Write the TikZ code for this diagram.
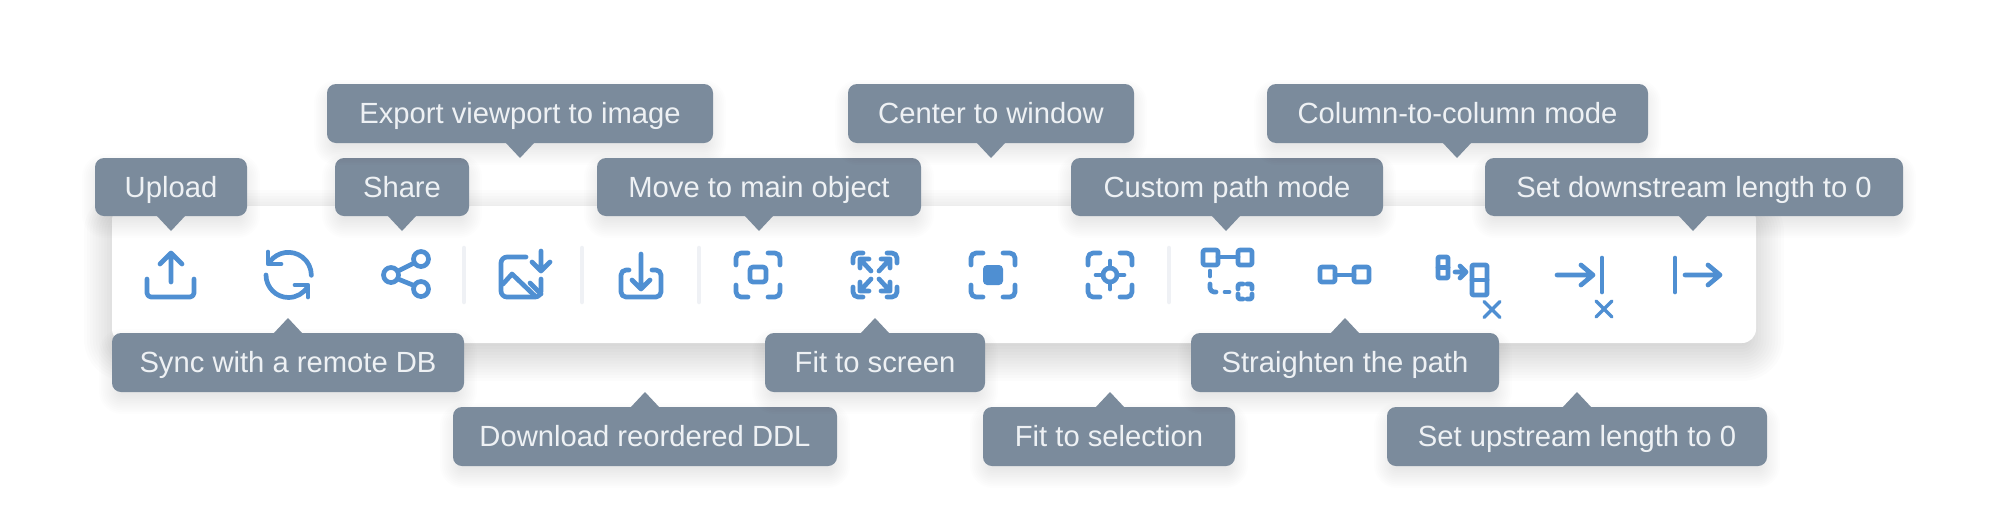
\documentclass[tikz,border=0pt]{standalone}
\usepackage{fontspec}
\setmainfont{Liberation Sans}
\definecolor{tipfill}{HTML}{7B8B9C}
\definecolor{tiptext}{HTML}{EEF1F4}
\definecolor{iconblue}{HTML}{4F8FD2}
\definecolor{sepgrey}{HTML}{EFF1F5}
\tikzset{
  tipbox/.style={fill=tipfill,text=tiptext,rounded corners=9pt,inner sep=0pt,outer sep=0pt,anchor=north west,text height=23pt,text depth=3pt,font=\fontsize{29.2}{32}\selectfont},
  icon/.style={draw=iconblue,line width=4.7pt,line cap=round,line join=round},
  thinicon/.style={icon,line width=3.4pt},
  sepbar/.style={draw=sepgrey,line width=4.5pt,line cap=round},
}
% x0 y0 x1 y1 dy spread alpha
\newcommand\softshadow[7]{%
  \foreach \i in {0,...,14}{%
    \pgfmathsetmacro\ee{#6-\i*#6/7}%
    \pgfmathsetmacro\rr{max(2,10+\ee)}%
    \fill[black,fill opacity=#7,rounded corners=\rr pt] ({#1-\ee},{#2+#5-\ee}) rectangle ({#3+\ee},{#4+#5+\ee});
  }}
% name x0 y0 x1 y1 tipx text
\newcommand\tipdown[7]{%
  \softshadow{#2}{#3}{#4}{#5}{9}{13}{0.009}%
  \fill[tipfill] ({#6-15},{#5-1}) -- (#6,{#5+15}) -- ({#6+15},{#5-1}) -- cycle;
  \node[tipbox,minimum width={#4-#2},minimum height={#5-#3}] (#1) at (#2,#3) {#7};}
\newcommand\tipup[7]{%
  \softshadow{#2}{#3}{#4}{#5}{9}{13}{0.009}%
  \fill[tipfill] ({#6-15},{#3+1}) -- (#6,{#3-15}) -- ({#6+15},{#3+1}) -- cycle;
  \node[tipbox,minimum width={#4-#2},minimum height={#5-#3}] (#1) at (#2,#3) {#7};}
\newcommand\focusframe[3]{% cx cy armend
  \draw[icon,rounded corners=5pt] ({#1-#3},{#2-22}) -- ({#1-22},{#2-22}) -- ({#1-22},{#2-#3});
  \draw[icon,rounded corners=5pt] ({#1+#3},{#2-22}) -- ({#1+22},{#2-22}) -- ({#1+22},{#2-#3});
  \draw[icon,rounded corners=5pt] ({#1-#3},{#2+22}) -- ({#1-22},{#2+22}) -- ({#1-22},{#2+#3});
  \draw[icon,rounded corners=5pt] ({#1+#3},{#2+22}) -- ({#1+22},{#2+22}) -- ({#1+22},{#2+#3});}
\newcommand\xmark[2]{\draw[thinicon] ({#1-8},{#2-8}) -- ({#1+8},{#2+8}) ({#1-8},{#2+8}) -- ({#1+8},{#2-8});}
\begin{document}
\begin{tikzpicture}[x=1pt,y=-1pt]
\useasboundingbox (0,0) rectangle (2000,528);
\fill[white] (0,0) rectangle (2000,528);
% toolbar
\foreach \i in {0,...,19}{%
  \pgfmathsetmacro\ee{28-\i*2.9}%
  \pgfmathsetmacro\rr{max(3,14+\ee)}%
  \fill[black,fill opacity=0.0125,rounded corners=\rr pt] ({112-\ee},{206+12-\ee}) rectangle ({1756+\ee},{343+10+\ee});
}
\node[fill=white,rounded corners=14pt,inner sep=0pt,outer sep=0pt,anchor=north west,minimum width=1644pt,minimum height=137pt] (toolbar) at (112,206) {};
% separators
\draw[sepbar] (464,248) -- (464,302);
\draw[sepbar] (582,248) -- (582,302);
\draw[sepbar] (699,248) -- (699,302);
\draw[sepbar] (1169,248) -- (1169,302);
% upload
\draw[icon,rounded corners=4pt] (147,279) -- (147,297) -- (194,297) -- (194,279);
\draw[icon] (171,282) -- (171,254) (160,264) -- (171,253) -- (182,264);
% sync
\draw[icon] (270,261.5) arc[start angle=217,end angle=360,radius=23];
\draw[icon] (268,252) -- (268,264) -- (281,264);
\draw[icon] (266,275) arc[start angle=180,end angle=32,radius=22.5];
\draw[icon] (295,285) -- (308,285) -- (308,297);
% share
\draw[icon] (391,275) circle[radius=7.5];
\draw[icon] (421,259) circle[radius=7.5];
\draw[icon] (421,289) circle[radius=7.5];
\draw[icon] (398,271) -- (414,263) (398,279) -- (414,285.5);
% image download
\draw[icon,rounded corners=6pt] (526,257) -- (501,257) -- (501,297) -- (541,297) -- (541,279);
\draw[icon] (503,284) -- (512,274) -- (535,296) (530,283) -- (541,294);
\draw[icon] (541,251) -- (541,270) (532,262) -- (541,271) -- (550,262);
% download
\draw[icon,rounded corners=5pt] (629,270) -- (621,270) -- (621,297) -- (661,297) -- (661,270) -- (652,270);
\draw[icon] (641,254) -- (641,287) (632,280) -- (641,289) -- (650,280);
% focus 1
\focusframe{758}{275}{10}
\draw[icon,rounded corners=3pt] (750,267) rectangle (766,282);
% focus 2
\focusframe{875}{275}{12}
\draw[icon] (871,271) -- (860,259) (860,268) -- (860,259) -- (869,259);
\draw[icon] (879,271) -- (890,259) (881,259) -- (890,259) -- (890,268);
\draw[icon] (871,279) -- (860,291) (860,282) -- (860,291) -- (869,291);
\draw[icon] (879,279) -- (890,291) (890,282) -- (890,291) -- (881,291);
% focus 3
\focusframe{993}{275}{10}
\fill[iconblue,rounded corners=4pt] (983,265) rectangle (1003,285);
% focus 4
\focusframe{1110}{275}{10}
\draw[icon] (1110,275) circle[radius=7];
\draw[icon] (1096,275) -- (1103,275) (1117,275) -- (1124,275) (1110,261) -- (1110,268) (1110,282) -- (1110,289);
% custom path
\draw[icon,rounded corners=2pt] (1203,250) rectangle (1218,265);
\draw[icon,rounded corners=2pt] (1238,250) rectangle (1252,265);
\draw[icon] (1218,257) -- (1238,257);
\draw[icon] (1210,271) -- (1210,276);
\draw[icon,rounded corners=4pt] (1210,284) -- (1210,292) -- (1216,292);
\draw[icon] (1225,292) -- (1229,292);
\draw[icon,rounded corners=2pt] (1238,289) -- (1238,284) -- (1243,284);
\draw[icon,rounded corners=2pt] (1247,284) -- (1252,284) -- (1252,289);
\draw[icon,rounded corners=2pt] (1252,294) -- (1252,299) -- (1247,299);
\draw[icon,rounded corners=2pt] (1243,299) -- (1238,299) -- (1238,294);
% straighten
\draw[icon,rounded corners=2pt] (1320,267) rectangle (1335,282);
\draw[icon,rounded corners=2pt] (1354,267) rectangle (1369,282);
\draw[icon] (1335,275) -- (1354,275);
% column
\draw[icon,rounded corners=1pt] (1438,257) rectangle (1448,278);
\draw[icon] (1438,267.5) -- (1448,267.5);
\draw[icon] (1455,272) -- (1465,272) (1460,266) -- (1466,272) -- (1460,278);
\draw[icon,rounded corners=1pt] (1472,265) rectangle (1487,295);
\draw[icon] (1472,280) -- (1487,280);
\xmark{1492}{309.5}
% arrow to bar
\draw[icon] (1557,275) -- (1592,275) (1581,265) -- (1593,275) -- (1581,285);
\draw[icon] (1602,258) -- (1602,292);
\xmark{1604}{309}
% bar to arrow
\draw[icon] (1675,258) -- (1675,292);
\draw[icon] (1685,275) -- (1719,275) (1708,265) -- (1720,275) -- (1708,285);
% tooltips
\tipdown{upload}{95}{158}{247}{216}{171}{Upload}
\tipdown{share}{335}{158}{469}{216}{402}{Share}
\tipdown{export}{327}{84}{713}{143}{520}{Export viewport to image}
\tipdown{move}{597}{158}{921}{216}{759}{Move to main object}
\tipdown{center}{848}{84}{1134}{143}{991}{Center to window}
\tipdown{custom}{1071}{158}{1383}{216}{1226}{Custom path mode}
\tipdown{column}{1267}{84}{1648}{143}{1457}{Column-to-column mode}
\tipdown{downstream}{1485}{158}{1903}{216}{1693}{Set downstream length to 0}
\tipup{sync}{112}{333}{464}{392}{288}{Sync with a remote DB}
\tipup{reorder}{453}{407}{837}{466}{645}{Download reordered DDL}
\tipup{fitscreen}{765}{333}{985}{392}{875}{Fit to screen}
\tipup{fitsel}{983}{407}{1235}{466}{1110}{Fit to selection}
\tipup{straight}{1191}{333}{1499}{392}{1345}{Straighten the path}
\tipup{upstream}{1387}{407}{1767}{466}{1577}{Set upstream length to 0}
\end{tikzpicture}
\end{document}
